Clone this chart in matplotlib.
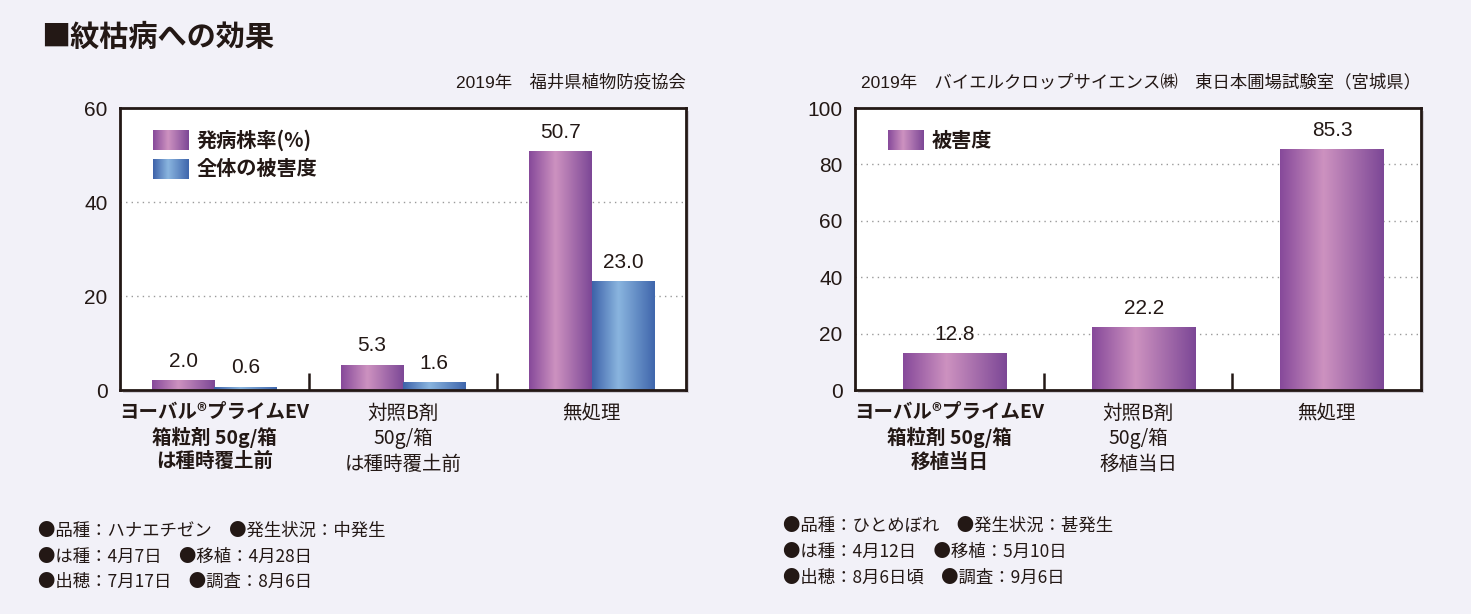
import matplotlib
matplotlib.use("Agg")

import matplotlib.pyplot as plt
import numpy as np
from matplotlib.colors import LinearSegmentedColormap
from matplotlib.patches import Rectangle

plt.rcParams["font.family"] = ["Liberation Sans", "Noto Sans CJK JP"]
JP = ["Noto Sans CJK JP", "DejaVu Sans"]

# データ
left_categories = ["ヨーバル®プライムEV\n箱粒剤 50g/箱\nは種時覆土前",
                   "対照B剤\n50g/箱\nは種時覆土前",
                   "無処理"]
left_incidence = [2.0, 5.3, 50.7]      # 発病株率(%)
left_severity = [0.6, 1.6, 23.0]       # 全体の被害度

right_categories = ["ヨーバル®プライムEV\n箱粒剤 50g/箱\n移植当日",
                    "対照B剤\n50g/箱\n移植当日",
                    "無処理"]
right_severity = [12.8, 22.2, 85.3]    # 被害度

left_notes = ["●品種：ハナエチゼン　●発生状況：中発生",
              "●は種：4月7日　●移植：4月28日",
              "●出穂：7月17日　●調査：8月6日"]
right_notes = ["●品種：ひとめぼれ　●発生状況：甚発生",
               "●は種：4月12日　●移植：5月10日",
               "●出穂：8月6日頃　●調査：9月6日"]

BG = "#f2f1f8"
INK = "#231815"

purple = LinearSegmentedColormap.from_list(
    "purple", [(0, "#86499a"), (0.42, "#cd92c0"), (1, "#7c4796")])
blue = LinearSegmentedColormap.from_list(
    "blue", [(0, "#3d62a9"), (0.42, "#8ab5df"), (1, "#3f66ac")])
grad = np.linspace(0, 1, 256).reshape(1, -1)


def gradient_bars(ax, bars, cmap):
    for b in bars:
        x, y = b.get_x(), b.get_y()
        w, h = b.get_width(), b.get_height()
        ax.imshow(grad, extent=[x, x + w, y, y + h], aspect="auto",
                  cmap=cmap, zorder=2, interpolation="bicubic")
        b.set_facecolor("none")


def setup_axes(ax, ymax, yticks, categories):
    ax.set_facecolor("white")
    ax.set_zorder(2)
    ax.set_xlim(-0.5, 2.5)
    ax.set_ylim(0, ymax)
    ax.set_yticks(yticks)
    ax.tick_params(axis="y", length=0, labelsize=15, pad=9, labelcolor=INK)
    ax.set_xticks(range(3))
    ax.set_xticklabels(categories, fontsize=14, linespacing=1.3, color=INK,
                       family=JP)
    ax.get_xticklabels()[0].set_fontweight("bold")
    ax.tick_params(axis="x", length=0, pad=9)
    ax.set_xticks([0.5, 1.5], minor=True)
    ax.tick_params(axis="x", which="minor", direction="in", length=12,
                   width=1.8, color=INK)
    for t in yticks[1:-1]:
        ax.axhline(t, color="#9a9a9a", lw=1, ls=(0, (1, 3)), zorder=1)
    for s in ax.spines.values():
        s.set_linewidth(2)
        s.set_color(INK)


def legend_item(ax, y, cmap, label):
    ax.imshow(grad, extent=[0.058, 0.12, y - 0.035, y + 0.035],
              transform=ax.transAxes, aspect="auto", cmap=cmap, zorder=5)
    ax.text(0.135, y, label, transform=ax.transAxes, va="center", ha="left",
            fontsize=14.5, fontweight="bold", color=INK, zorder=5, family=JP)


def value_labels(ax, bars, values):
    for b, v in zip(bars, values):
        ax.annotate(f"{v:.1f}", (b.get_x() + b.get_width() / 2, b.get_height()),
                    xytext=(0, 7), textcoords="offset points", ha="center",
                    va="bottom", fontsize=15, color=INK)


fig = plt.figure(figsize=(14.71, 6.14), dpi=100, facecolor=BG)

ax1 = fig.add_axes([0.0816, 0.3648, 0.3848, 0.4593])
ax2 = fig.add_axes([0.5812, 0.3648, 0.3848, 0.4593])

# 影
for ax in (ax1, ax2):
    p = ax.get_position()
    fig.patches.append(Rectangle((p.x0 + 0.002, p.y0 - 0.005), p.width, p.height,
                                 transform=fig.transFigure, facecolor="#cfcdd5",
                                 edgecolor="none", zorder=-1))

# 左グラフ
x = np.arange(3)
w = 0.33
b1 = ax1.bar(x - w / 2, left_incidence, w, zorder=2)
b2 = ax1.bar(x + w / 2, left_severity, w, zorder=2)
gradient_bars(ax1, b1, purple)
gradient_bars(ax1, b2, blue)
setup_axes(ax1, 60, [0, 20, 40, 60], left_categories)
value_labels(ax1, b1, left_incidence)
value_labels(ax1, b2, left_severity)
legend_item(ax1, 0.885, purple, "発病株率(%)")
legend_item(ax1, 0.785, blue, "全体の被害度")

# 右グラフ
b3 = ax2.bar(x + 0.03, right_severity, 0.55, zorder=2)
gradient_bars(ax2, b3, purple)
setup_axes(ax2, 100, [0, 20, 40, 60, 80, 100], right_categories)
value_labels(ax2, b3, right_severity)
legend_item(ax2, 0.885, purple, "被害度")

# タイトル・注記
fig.text(0.028, 0.94, "■紋枯病への効果", fontsize=21, fontweight="bold",
         color=INK, va="center", ha="left", family=JP)
fig.text(0.4664, 0.866, "2019年　福井県植物防疫協会", fontsize=12.5,
         color=INK, ha="right", va="center")
fig.text(0.966, 0.866, "2019年　バイエルクロップサイエンス㈱　東日本圃場試験室（宮城県）",
         fontsize=12.5, color=INK, ha="right", va="center")

for i, line in enumerate(left_notes):
    fig.text(0.026, 0.135 - i * 0.0415, line, fontsize=12.5, color=INK,
             va="center", ha="left", family=JP)
for i, line in enumerate(right_notes):
    fig.text(0.532, 0.143 - i * 0.0415, line, fontsize=12.5, color=INK,
             va="center", ha="left", family=JP)

fig.savefig("out.png", dpi=100, facecolor=BG)
plt.close(fig)
